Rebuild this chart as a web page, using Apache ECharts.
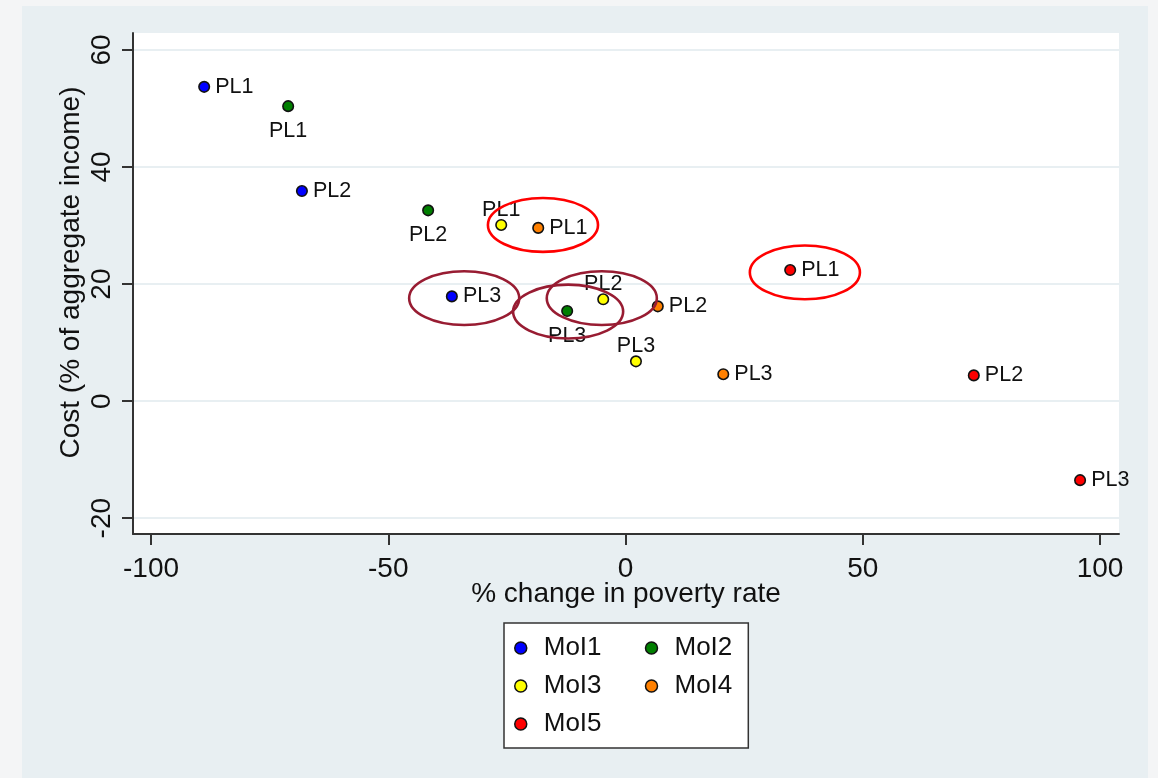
<!DOCTYPE html>
<html>
<head>
<meta charset="utf-8">
<title>Cost vs. % change in poverty rate</title>
<script src="https://cdn.jsdelivr.net/npm/echarts@6/dist/echarts.min.js"></script>
<style>
  html, body { margin: 0; padding: 0; background: #f4f5f6; }
  #chart { position: absolute; left: 22px; top: 6px; width: 1126px; height: 772px; }
</style>
</head>
<body>
<div id="chart"></div>
<script>
// Poverty-line labels shared by every measure of income
const policyLabels = ['PL1', 'PL2', 'PL3'];
const seriesNames = ['MoI1', 'MoI2', 'MoI3', 'MoI4', 'MoI5'];

// % change in poverty rate (x) and cost as % of aggregate income (y)
const moi1X = [-88.8, -68.2, -36.6];
const moi1Y = [53.7, 35.9, 17.9];
const moi2X = [-71.1, -41.6, -12.3];
const moi2Y = [50.4, 32.6, 15.4];
const moi3X = [-26.2, -4.7, 2.2];
const moi3Y = [30.1, 17.4, 6.8];
const moi4X = [-18.4, 6.8, 20.6];
const moi4Y = [29.6, 16.2, 4.6];
const moi5X = [34.7, 73.4, 95.8];
const moi5Y = [22.4, 4.4, -13.5];

// Highlight rings around selected points: [x, y] centres, in data units
const redRings = [[-17.4, 30.1], [37.8, 22.0]];
const maroonRings = [[-34.0, 17.6], [-12.1, 15.3], [-5.0, 17.6]];
const ringHalfAxes = [11.6, 4.6];

// Axis ticks
const xTicks = [-100, -50, 0, 50, 100];
const yTicks = [-20, 0, 20, 40, 60];

const FONT = "'Liberation Sans', Arial, sans-serif";
const colors = ['#0000ff', '#007f00', '#ffff00', '#ff8000', '#ff0000'];
const labelPos = ['right', 'bottom', 'top', 'right', 'right'];
const labelDist = { right: 5, bottom: 8, top: -2 };

function points(xs, ys) {
  return xs.map((x, i) => [x, ys[i], policyLabels[i]]);
}
const allX = [moi1X, moi2X, moi3X, moi4X, moi5X];
const allY = [moi1Y, moi2Y, moi3Y, moi4Y, moi5Y];

const scatterSeries = seriesNames.map((name, k) => ({
  name: name,
  type: 'scatter',
  data: points(allX[k], allY[k]),
  symbol: 'circle',
  symbolSize: 10.5,
  itemStyle: { color: colors[k], borderColor: '#111', borderWidth: 1.6, opacity: 1 },
  label: {
    show: true,
    position: labelPos[k],
    distance: labelDist[labelPos[k]],
    formatter: p => p.data[2],
    color: '#111',
    fontFamily: FONT,
    fontSize: 21.5
  },
  emphasis: { disabled: true },
  z: 3
}));

function ringSeries(centres, stroke) {
  return {
    type: 'custom',
    name: 'ring',
    data: centres.map(c => [c[0], c[1], ringHalfAxes[0], ringHalfAxes[1]]),
    renderItem: (params, api) => {
      const c = api.coord([api.value(0), api.value(1)]);
      const s = api.size([api.value(2), api.value(3)]);
      return {
        type: 'ellipse',
        shape: { cx: c[0], cy: c[1], rx: s[0], ry: s[1] },
        style: { fill: null, stroke: stroke, lineWidth: 2.6 }
      };
    },
    silent: true,
    z: 5
  };
}

const axisLineStyle = { color: '#333', width: 2 };

const chart = echarts.init(document.getElementById('chart'));
chart.setOption({
  backgroundColor: '#e8eff2',
  animation: false,
  grid: { left: 111, top: 27, right: 29, bottom: 244, backgroundColor: '#fff', show: true, borderWidth: 0 },
  xAxis: {
    type: 'value',
    min: -103.8,
    max: 104,
    name: '% change in poverty rate',
    nameLocation: 'middle',
    nameGap: 46,
    nameMoveOverlap: false,
    nameTextStyle: { fontFamily: FONT, fontSize: 28, color: '#111' },
    axisLine: { show: true, onZero: false, lineStyle: axisLineStyle },
    axisTick: { show: true, length: 11, lineStyle: axisLineStyle, customValues: xTicks },
    axisLabel: { customValues: xTicks, fontFamily: FONT, fontSize: 28, color: '#111', margin: 21 },
    splitLine: { show: false }
  },
  yAxis: {
    type: 'value',
    min: -22.7,
    max: 62.9,
    name: 'Cost (% of aggregate income)',
    nameLocation: 'middle',
    nameGap: 48,
    nameMoveOverlap: false,
    nameTextStyle: { fontFamily: FONT, fontSize: 28, color: '#111', padding: [0, 0, 0, 22] },
    axisLine: { show: true, onZero: false, lineStyle: axisLineStyle },
    axisTick: { show: true, length: 11, lineStyle: axisLineStyle, customValues: yTicks },
    axisLabel: { customValues: yTicks, rotate: 90, fontFamily: FONT, fontSize: 28, color: '#111', margin: 17 },
    splitLine: { show: true, lineStyle: { color: '#e8eff2', width: 2 } }
  },
  legend: {
    data: [
      { name: 'MoI1', textStyle: { width: 91 } },
      { name: 'MoI2' },
      { name: 'MoI3', textStyle: { width: 91 } },
      { name: 'MoI4' },
      { name: 'MoI5', textStyle: { width: 91 } }
    ],
    left: 482,
    top: 617,
    width: 230,
    orient: 'horizontal',
    padding: [11, 16, 10, 10],
    itemGap: 10,
    itemWidth: 12,
    itemHeight: 12,
    icon: 'circle',
    backgroundColor: '#fff',
    borderColor: '#333',
    borderWidth: 1.5,
    borderRadius: 0,
    selectedMode: false,
    itemStyle: { borderColor: '#111', borderWidth: 1.5 },
    textStyle: { fontFamily: FONT, fontSize: 26, color: '#111', lineHeight: 28, padding: [0, 0, 0, 12] }
  },
  series: scatterSeries.concat([
    ringSeries(redRings, '#ff0000'),
    ringSeries(maroonRings, '#981c32')
  ])
});
</script>
</body>
</html>
